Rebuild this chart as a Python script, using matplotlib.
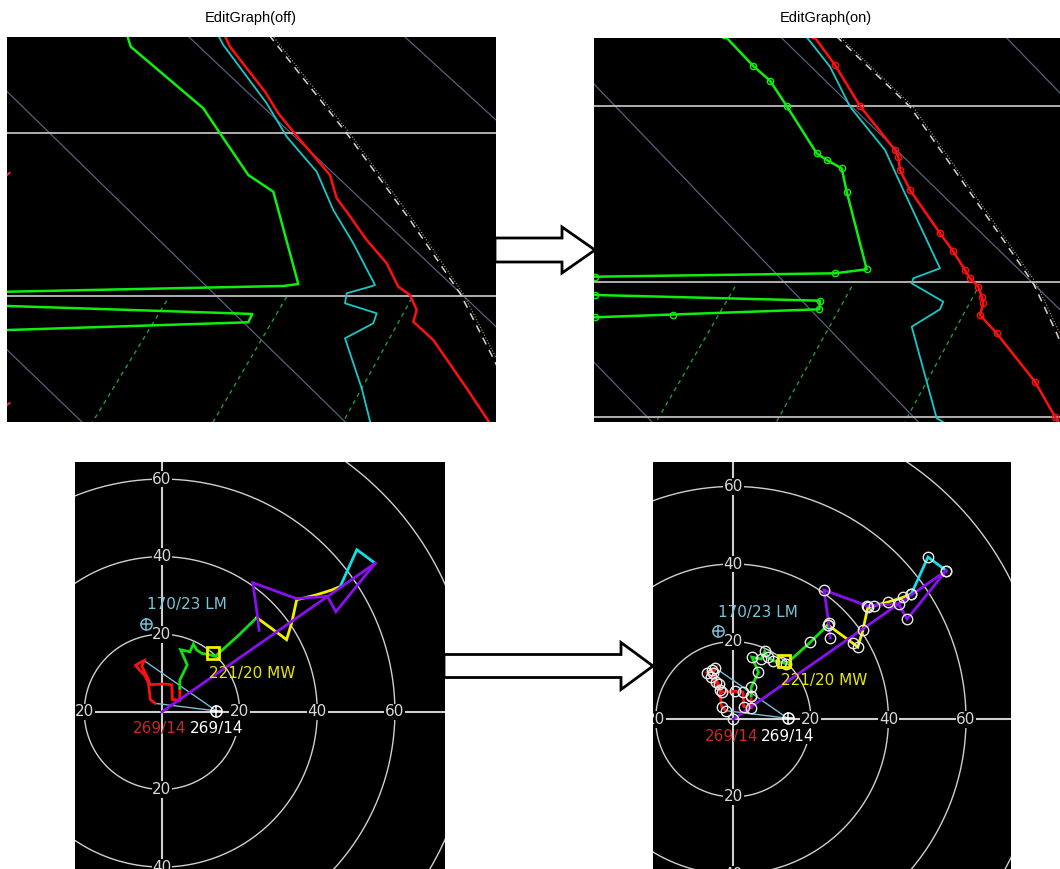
"""EditGraph off/on comparison: skew-T detail and hodograph views."""

import numpy as np
import matplotlib as mpl  # noqa
from matplotlib import pyplot as plt
from matplotlib.patches import Polygon

W, H = 1060, 869

# ---- skew-T, EditGraph(off): positions read in panel pixels (x right, y down)
OFF_SIZE = (489, 385)
OFF_DEWP_X = [119.5, 123.7, 196.3, 213.0, 241.3, 266.3, 291.3, 276.3, 1.3, -30, -30, 1.3, 226.3, 245.3, 241.3, 1.3, -30]
OFF_DEWP_Y = [-4, 9.7, 71.3, 96.3, 138.0, 154.7, 247.0, 249.0, 254.7, 256, 268, 269.0, 276.3, 277.0, 285.3, 293.0, 294]
OFF_TEMP_X = [217, 223, 258, 271.3, 286.3, 323, 326.3, 329.7, 339.7, 359.7, 379.7, 391.3, 403, 409.7, 406.3, 426.3, 459.7, 484]
OFF_TEMP_Y = [-3, 9.7, 54.7, 76.3, 94.7, 138, 149.7, 161.3, 174.7, 203, 226.3, 249.7, 258, 273, 284.7, 303, 351.3, 388]
OFF_WETB_X = [210.5, 216.3, 259.7, 279.7, 309.7, 326.3, 346.3, 368, 363, 339.7, 338, 369.7, 366.3, 338, 354.7, 364]
OFF_WETB_Y = [-3, 8, 66.3, 99.7, 134.7, 173, 206.3, 248, 249.7, 256.3, 266.3, 276.3, 286.3, 301.3, 351.3, 388]
OFF_ISOBARS = [96.3, 258.7]
OFF_ISO_TOP = [182, -55.7, -324.7, 398]
OFF_ISO_BOT = [590, 338.3, 75, 820]
OFF_MIX_X0 = [159.7, 279.7, 404.7]
OFF_MIX_Y0 = [263.7, 259.7, 261.3]
OFF_MIX_X1 = [85, 205.5, 335.5]
OFF_ADIA_X = [262, 339.7, 403, 453, 486.3, 500]
OFF_ADIA_Y = [-2, 96.3, 183, 256.3, 321.3, 350]
OFF_EDGE_MARKS = [138, 368]

# ---- skew-T, EditGraph(on)
ON_SIZE = (466, 384)
ON_DEWP_X = [130, 159.3, 176, 192.7, 222.7, 232.7, 247.7, 252.7, 272.7, 241, 1, -30, -30, 1, 226, 225.3, 79.3, 1, -30]
ON_DEWP_Y = [-3, 28, 42.7, 68, 115.3, 122, 130.3, 153.7, 231.3, 235.3, 238.7, 239, 257, 257, 262.7, 271.3, 276.5, 279.3, 280]
ON_TEMP_X = [219, 241, 266, 301, 304.3, 306, 316, 346, 359, 371, 376, 384.3, 387.7, 389.3, 386, 402.7, 441, 461, 468]
ON_TEMP_Y = [-3, 27, 68, 112, 118.7, 132, 152, 195.3, 213, 232, 240.3, 248.7, 258.7, 265.3, 277, 295.3, 343.7, 378.7, 390]
ON_WETB_X = [211, 236, 256, 291, 309.3, 346, 319.3, 317.7, 349.3, 346, 317.7, 342.7, 356]
ON_WETB_Y = [-3, 28.7, 68.7, 112, 152, 230.3, 240.3, 245.3, 263.7, 271.3, 288.7, 380.3, 388]
ON_ISOBARS = [68, 244.3, 379.3]
ON_ISO_TOP = [187.7, -44.1, -314.8, 412.7]
ON_ISO_BOT = [581, 324.3, 58, 785]
ON_MIX_X0 = [141, 257.7, 382.7]
ON_MIX_Y0 = [248.7, 248.7, 252]
ON_MIX_X1 = [61.5, 181.8, 310.2]
ON_ADIA_X = [242, 316, 362.7, 409.3, 439.3, 462.7, 475]
ON_ADIA_Y = [-2, 68.7, 135.3, 202, 245.3, 295.3, 325]

# ---- hodograph (kt), same sounding in both views
RED_U = [-1.8, -3.0, -3.5, -4.5, -5.8, -6.8, -5.5, -4.6, -5.2, -3.8, -3.0, 0.5, 2.5, 2.7, 4.6, 4.6]
RED_V = [2.2, 3.2, 7.5, 9.5, 10.8, 12.0, 12.8, 13.2, 11.8, 9.0, 7.0, 7.2, 7.0, 3.2, 3.0, 6.1]
GREEN_U = [4.6, 4.6, 6.5, 4.8, 7.2, 8.1, 8.9, 10.2, 12.4, 13.7, 19.8, 24.4]
GREEN_V = [6.1, 8.2, 12.1, 16.0, 15.5, 17.5, 16.0, 15.1, 14.7, 14.3, 19.8, 24.3]
YELLOW_U = [24.4, 30.8, 32.1, 33.4, 34.7, 36.4, 39.9, 43.7, 45.9]
YELLOW_V = [24.3, 19.6, 18.6, 22.9, 28.9, 29.3, 30.2, 31.4, 32.3]
CYAN_U = [45.9, 50.2, 54.9]
CYAN_V = [32.3, 41.8, 38.3]
PURPLE_U = [54.9, 44.8, 42.6, 34.6, 23.4, 24.6, 25.0]
PURPLE_V = [38.3, 25.8, 29.8, 29.2, 33.3, 24.7, 21.0]
SHEAR_U = [0.0, 54.9]
SHEAR_V = [0.0, 38.3]
RINGS = [20, 40, 60, 80, 100]
VERT_LABELS = [60, 40, 20, -20, -40]
HORZ_LABELS = [-20, 20, 40, 60]

# storm motions: (direction deg, speed kt)
RM_DIR, RM_SPD = 269, 14
LM_DIR, LM_SPD = 170, 23
MW_DIR, MW_SPD = 221, 20

BG = 'black'
GRID = '#cfcfcf'
FONT = 'DejaVu Sans'


def wind_uv(wdir, spd):
    rad = np.deg2rad(wdir)
    return -spd * np.sin(rad), -spd * np.cos(rad)


def add_px_axes(fig, x0, y0, x1, y1):
    ax = fig.add_axes([x0 / W, 1 - y1 / H, (x1 - x0) / W, (y1 - y0) / H])
    ax.set_facecolor(BG)
    ax.set_xticks([])
    ax.set_yticks([])
    for sp in ax.spines.values():
        sp.set_visible(False)
    return ax


def draw_skewt(ax, size, dewp, temp, wetb, isobars, iso_top, iso_bot, mix, adia, edit=False):
    wid, hgt = size
    ax.set_xlim(0, wid)
    ax.set_ylim(hgt, 0)

    # isotherms
    for xt, xb in zip(iso_top, iso_bot):
        ax.plot([xt, xb], [0, hgt], color='#56607c', lw=0.9, zorder=1)
    # mixing-ratio lines
    for x0, y0, x1 in zip(*mix):
        ax.plot([x0, x1], [y0, hgt + 1], color='#1f9a3a', lw=1.0, ls=(0, (3, 3)), zorder=1)
    # isobars
    for yy in isobars:
        ax.axhline(yy, color='#bdbdbd', lw=1.3, zorder=2)
    # parcel / adiabat
    ax.plot(*adia, color='#d4d4d4', lw=1.1, ls=(0, (5, 4)), zorder=2)
    ax.plot(np.asarray(adia[0]) + 3, adia[1], color='#a89c70', lw=0.8, ls=':', zorder=2)

    mk = dict(marker='o', ms=4.5, mfc='none', mew=1.0) if edit else {}
    ax.plot(*wetb, color='#18c8c8', lw=1.3, zorder=3)
    ax.plot(*dewp, color='#10ee10', lw=1.8, zorder=4, **mk)
    ax.plot(*temp, color='#ff1010', lw=1.8, zorder=5, **mk)


def draw_hodo(ax, xlim, ylim, edit=False):
    ax.set_xlim(*xlim)
    ax.set_ylim(*ylim)

    th = np.linspace(0, 2 * np.pi, 721)
    for r in RINGS:
        ax.plot(r * np.cos(th), r * np.sin(th), color=GRID, lw=1.0, zorder=1)
    ax.axhline(0, color=GRID, lw=1.5, zorder=1)
    ax.axvline(0, color=GRID, lw=1.5, zorder=1)

    lab = dict(ha='center', va='center', color='#d8d8d8', fontsize=11, family=FONT, zorder=2,
               clip_on=True, bbox=dict(fc=BG, ec='none', pad=0.6))
    for r in VERT_LABELS:
        ax.text(0, r, str(abs(r)), **lab)
    for r in HORZ_LABELS:
        ax.text(r, 0, str(abs(r)), **lab)

    rm_u, rm_v = wind_uv(RM_DIR, RM_SPD)
    lm_u, lm_v = wind_uv(LM_DIR, LM_SPD)
    mw_u, mw_v = wind_uv(MW_DIR, MW_SPD)

    # storm-relative inflow lines
    for ii in (0, 7):
        ax.plot([rm_u, RED_U[ii]], [rm_v, RED_V[ii]], color='#78bcd4', lw=1.0, zorder=3)

    traces = [(RED_U, RED_V, '#ff1010'), (GREEN_U, GREEN_V, '#10e010'),
              (YELLOW_U, YELLOW_V, '#f0f000'), (CYAN_U, CYAN_V, '#10e0e8'),
              (PURPLE_U, PURPLE_V, '#8a10f0')]
    for uu, vv, cc in traces:
        ax.plot(uu, vv, color=cc, lw=2.0, zorder=4, solid_joinstyle='miter')
    ax.plot(SHEAR_U, SHEAR_V, color='#8a10f0', lw=2.0, zorder=4)

    if edit:
        for uu, vv, cc in traces:
            ax.plot(uu, vv, ls='none', marker='o', ms=7.5, mfc='none', mec='#e8e8e8', mew=1.0, zorder=6)
        ax.plot([0], [0], ls='none', marker='o', ms=7.5, mfc='none', mec='#e8e8e8', mew=1.0, zorder=6)

    # mean wind box
    ax.plot([mw_u], [mw_v], ls='none', marker='s', ms=8.5, mfc='none', mec='#f0f000', mew=2.0, zorder=7)
    # storm motion markers
    for uu, vv, cc in ((lm_u, lm_v, '#78bcd4'), (rm_u, rm_v, 'white')):
        ax.plot([uu], [vv], ls='none', marker='o', ms=8, mfc='none', mec=cc, mew=1.1, zorder=7)
        ax.plot([uu], [vv], ls='none', marker='+', ms=8, mec=cc, mew=1.1, zorder=7)

    txt = dict(fontsize=11, family=FONT, va='center', ha='left', zorder=8)
    ax.text(-3.95, 27.6, '{}/{} LM'.format(LM_DIR, LM_SPD), color='#78c4d8', **txt)
    ax.text(12.2, 10.0, '{}/{} MW'.format(MW_DIR, MW_SPD), color='#e8e800', **txt)
    ax.text(-7.4, -4.4, '{}/{}'.format(RM_DIR, RM_SPD), color='#c8282a', **txt)
    ax.text(7.2, -4.4, '{}/{}'.format(RM_DIR, RM_SPD), color='white',
            bbox=dict(fc=BG, ec='none', pad=0.0), **txt)


def hollow_arrow(ax, x_tail, x_tip, y_mid, shaft_half, head_half, head_len):
    xh = x_tip - head_len
    pts = [(x_tail, y_mid - shaft_half), (xh, y_mid - shaft_half), (xh, y_mid - head_half),
           (x_tip, y_mid), (xh, y_mid + head_half), (xh, y_mid + shaft_half),
           (x_tail, y_mid + shaft_half)]
    ax.add_patch(Polygon(pts, closed=True, facecolor='white', edgecolor='black', lw=2.0,
                         joinstyle='miter'))


fig = plt.figure(figsize=(W / 100, H / 100), dpi=100, facecolor='white')

ax_off = add_px_axes(fig, 7, 37, 496, 422)
draw_skewt(ax_off, OFF_SIZE, (OFF_DEWP_X, OFF_DEWP_Y), (OFF_TEMP_X, OFF_TEMP_Y),
           (OFF_WETB_X, OFF_WETB_Y), OFF_ISOBARS, OFF_ISO_TOP, OFF_ISO_BOT,
           (OFF_MIX_X0, OFF_MIX_Y0, OFF_MIX_X1), (OFF_ADIA_X, OFF_ADIA_Y))
for yy in OFF_EDGE_MARKS:
    ax_off.plot([0, 2.5], [yy, yy - 2], color='#ff2040', lw=1.5, zorder=5)

ax_on = add_px_axes(fig, 594, 38, 1060, 422)
draw_skewt(ax_on, ON_SIZE, (ON_DEWP_X, ON_DEWP_Y), (ON_TEMP_X, ON_TEMP_Y),
           (ON_WETB_X, ON_WETB_Y), ON_ISOBARS, ON_ISO_TOP, ON_ISO_BOT,
           (ON_MIX_X0, ON_MIX_Y0, ON_MIX_X1), (ON_ADIA_X, ON_ADIA_Y), edit=True)

ax_h_off = add_px_axes(fig, 75, 462, 445, 869)
draw_hodo(ax_h_off, (-22.4, 72.9), (-40.5, 64.4))

ax_h_on = add_px_axes(fig, 653, 462, 1011, 869)
draw_hodo(ax_h_on, (-20.7, 71.6), (-38.6, 66.3), edit=True)

# overlay for titles and arrows
ov = fig.add_axes([0, 0, 1, 1], facecolor='none')
ov.set_xlim(0, W)
ov.set_ylim(H, 0)
ov.axis('off')
ov.text(251, 18, 'EditGraph(off)', ha='center', va='center', fontsize=10.5, family='Liberation Sans')
ov.text(826, 18, 'EditGraph(on)', ha='center', va='center', fontsize=10.5, family='Liberation Sans')
hollow_arrow(ov, 495, 595, 250, 12, 23, 33)
hollow_arrow(ov, 444, 653, 666, 11.5, 23.5, 32)

fig.savefig('out.png', dpi=100, facecolor='white')
